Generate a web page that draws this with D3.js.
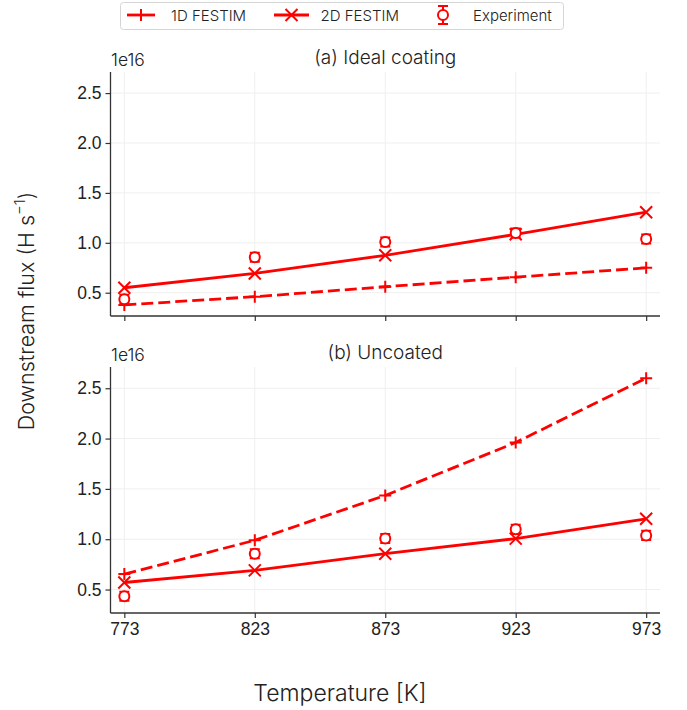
<!DOCTYPE html>
<html>
<head>
<meta charset="utf-8">
<script src="https://cdn.jsdelivr.net/npm/d3@7"></script>
<style>
  body { margin: 0; background: #fff; }
  svg { font-family: Inter, "DejaVu Sans", sans-serif; font-weight: 300; }
</style>
</head>
<body>
<svg id="chart" width="687" height="710"></svg>
<script>
// values in units of 1e16 H/s
const temps = [773, 823, 873, 923, 973];
const ideal1D = [0.378, 0.46, 0.56, 0.656, 0.749];
const ideal2D = [0.55, 0.693, 0.875, 1.085, 1.307];
const uncoated1D = [0.654, 0.989, 1.435, 1.961, 2.60];
const uncoated2D = [0.57, 0.69, 0.856, 1.006, 1.203];
const experiment = [0.434, 0.856, 1.008, 1.098, 1.038];
const experimentErr = [0.045, 0.045, 0.045, 0.045, 0.045];
const yTicks = [0.5, 1.0, 1.5, 2.0, 2.5];

const red = "#ff0000";
const svg = d3.select("#chart");

const x = d3.scaleLinear().domain([767.7, 978.3]).range([110.5, 660]);

// shared y limits, padded like matplotlib autoscale
const allVals = ideal1D.concat(ideal2D, uncoated1D, uncoated2D, experiment);
const lo = d3.min(allVals), hi = d3.max(allVals);
const pad = (hi - lo) * 0.05;
const yDomain = [lo - pad, hi + pad];

const panels = [
  {title: "(a) Ideal coating", top: 72, bottom: 316, d1: ideal1D, d2: ideal2D, labels: false},
  {title: "(b) Uncoated", top: 367, bottom: 613, d1: uncoated1D, d2: uncoated2D, labels: true}
];

function plus(g, cx, cy, s) {
  g.append("path").attr("d", `M${cx - s},${cy}H${cx + s}M${cx},${cy - s}V${cy + s}`)
    .attr("stroke", red).attr("stroke-width", 2).attr("fill", "none");
}
function cross(g, cx, cy, s) {
  g.append("path").attr("d", `M${cx - s},${cy - s}L${cx + s},${cy + s}M${cx - s},${cy + s}L${cx + s},${cy - s}`)
    .attr("stroke", red).attr("stroke-width", 2).attr("fill", "none");
}
function expMarker(g, cx, yTop, cy, yBot) {
  g.append("path").attr("d", `M${cx},${yTop}V${yBot}M${cx - 5},${yTop}H${cx + 5}M${cx - 5},${yBot}H${cx + 5}`)
    .attr("stroke", red).attr("stroke-width", 2).attr("fill", "none");
  g.append("circle").attr("cx", cx).attr("cy", cy).attr("r", 5)
    .attr("stroke", red).attr("stroke-width", 2).attr("fill", "#fff");
}

panels.forEach(p => {
  const y = d3.scaleLinear().domain(yDomain).range([p.bottom, p.top]);
  const g = svg.append("g");

  // grid
  g.selectAll(".gy").data(yTicks).enter().append("line")
    .attr("x1", x.range()[0]).attr("x2", x.range()[1])
    .attr("y1", d => y(d)).attr("y2", d => y(d))
    .attr("stroke", "#efefef").attr("stroke-width", 1);
  g.selectAll(".gx").data(temps).enter().append("line")
    .attr("x1", d => x(d)).attr("x2", d => x(d))
    .attr("y1", p.top).attr("y2", p.bottom)
    .attr("stroke", "#efefef").attr("stroke-width", 1);

  // axes
  const yAxis = d3.axisLeft(y).tickValues(yTicks).tickFormat(d3.format(".1f")).tickSize(5).tickPadding(4);
  const yG = g.append("g").attr("transform", `translate(${x.range()[0]},0)`).call(yAxis);
  const xAxis = d3.axisBottom(x).tickValues(temps).tickSize(5).tickPadding(5)
    .tickFormat(p.labels ? d3.format("d") : () => "");
  const xG = g.append("g").attr("transform", `translate(0,${p.bottom})`).call(xAxis);
  [yG, xG].forEach(a => {
    a.select(".domain").attr("stroke", "#333").attr("stroke-width", 1.3);
    a.selectAll(".tick line").attr("stroke", "#333").attr("stroke-width", 1.2);
    a.selectAll(".tick text").attr("fill", "#222").style("font-size", "17.5px");
  });
  // domain path without end caps
  yG.select(".domain").attr("d", `M0,${p.top}V${p.bottom}`);
  xG.select(".domain").attr("d", `M${x.range()[0]},0H${x.range()[1]}`);

  g.append("text").attr("x", 111).attr("y", p.top - 6).text("1e16")
    .attr("fill", "#222").style("font-size", "17.5px");
  g.append("text").attr("x", (x.range()[0] + x.range()[1]) / 2).attr("y", p.top - 8)
    .attr("text-anchor", "middle").attr("fill", "#222").style("font-size", "19px").text(p.title);

  const line = d3.line().x((d, i) => x(temps[i])).y(d => y(d));
  g.append("path").datum(p.d1).attr("d", line).attr("fill", "none")
    .attr("stroke", red).attr("stroke-width", 2.8).attr("stroke-dasharray", "12,5");
  g.append("path").datum(p.d2).attr("d", line).attr("fill", "none")
    .attr("stroke", red).attr("stroke-width", 2.8);
  p.d1.forEach((v, i) => plus(g, x(temps[i]), y(v), 6));
  p.d2.forEach((v, i) => cross(g, x(temps[i]), y(v), 6));
  experiment.forEach((v, i) => expMarker(g, x(temps[i]), y(v + experimentErr[i]), y(v), y(v - experimentErr[i])));
});

// axis labels
svg.append("text").attr("transform", "translate(34,311) rotate(-90)")
  .attr("text-anchor", "middle").attr("fill", "#222").style("font-size", "21.5px")
  .html("Downstream flux (H s<tspan dy='-9' font-size='15px'>−1</tspan><tspan dy='9'>)</tspan>");
svg.append("text").attr("x", 340).attr("y", 701).attr("text-anchor", "middle")
  .attr("fill", "#222").style("font-size", "23px").text("Temperature [K]");

// legend
const lg = svg.append("g");
lg.append("rect").attr("x", 120.5).attr("y", 2.5).attr("width", 443).attr("height", 27).attr("rx", 3)
  .attr("fill", "#fff").attr("stroke", "#d5d5d5");
lg.append("line").attr("x1", 127).attr("x2", 155).attr("y1", 15).attr("y2", 15)
  .attr("stroke", red).attr("stroke-width", 2.8);
plus(lg, 141, 15, 6);
lg.append("text").attr("x", 171).attr("y", 20.5).text("1D FESTIM").attr("fill", "#222").style("font-size", "15px");
lg.append("line").attr("x1", 274).attr("x2", 309).attr("y1", 15).attr("y2", 15)
  .attr("stroke", red).attr("stroke-width", 2.8);
cross(lg, 291.5, 15, 6);
lg.append("text").attr("x", 320.5).attr("y", 20.5).text("2D FESTIM").attr("fill", "#222").style("font-size", "15px");
expMarker(lg, 443, 6, 15, 24);
lg.append("text").attr("x", 473).attr("y", 20.5).text("Experiment").attr("fill", "#222").style("font-size", "15px");
</script>
</body>
</html>
